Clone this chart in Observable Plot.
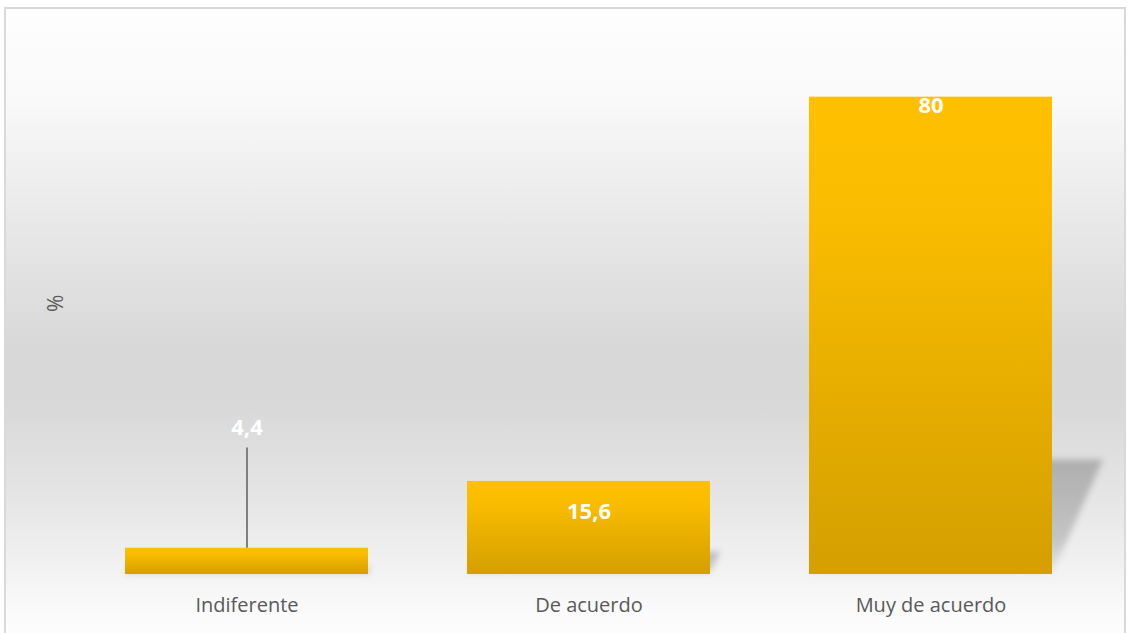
<!DOCTYPE html>
<html>
<head>
<meta charset="utf-8">
<script src="https://cdn.jsdelivr.net/npm/d3@7"></script>
<script src="https://cdn.jsdelivr.net/npm/@observablehq/plot@0.6"></script>
<style>
  html, body { margin: 0; padding: 0; background: #ffffff; width: 1130px; height: 633px; overflow: hidden; }
  #frame {
    position: absolute; left: 4px; top: 7px; width: 1122px; height: 640px;
    box-sizing: border-box; border: 2px solid #d9d9d9;
    background: linear-gradient(to bottom, #fefefe 0px, #f9f9f9 90px, #e6e6e6 230px, #d8d8d8 340px, #d9d9d9 400px, #e4e4e4 480px, #efefef 545px, #fbfbfb 605px, #ffffff 640px);
  }
  #chart { position: absolute; left: 0; top: 0; }
  #defs { position: absolute; width: 0; height: 0; }
</style>
</head>
<body>
<svg id="defs" width="0" height="0">
  <defs>
    <linearGradient id="barGrad" x1="0" y1="0" x2="0" y2="1">
      <stop offset="0" stop-color="#ffc000"/>
      <stop offset="0.25" stop-color="#f9bc00"/>
      <stop offset="1" stop-color="#d49f00"/>
    </linearGradient>
    <linearGradient id="shadowGrad" x1="0" y1="0" x2="0" y2="1">
      <stop offset="0" stop-color="#000" stop-opacity="0.22"/>
      <stop offset="0.7" stop-color="#000" stop-opacity="0.17"/>
      <stop offset="1" stop-color="#000" stop-opacity="0.03"/>
    </linearGradient>
    <filter id="blur" x="-20%" y="-20%" width="140%" height="140%">
      <feGaussianBlur stdDeviation="3"/>
    </filter>
  </defs>
</svg>
<div id="frame"></div>
<div id="chart"></div>
<script>
const categories = ["Indiferente", "De acuerdo", "Muy de acuerdo"];
const values = [4.4, 15.6, 80];
const yLabel = "%";

const data = categories.map((c, i) => ({category: c, value: values[i]}));
const fmt = v => String(v).replace(".", ",");
const labelFont = {fill: "white", fontWeight: "bold", fontSize: 22, text: d => fmt(d.value)};

const chart = Plot.plot({
  width: 1130,
  height: 633,
  marginLeft: 55.5,
  marginRight: 9.5,
  marginTop: 37,
  marginBottom: 59,
  style: {background: "transparent", fontFamily: "'Open Sans', sans-serif"},
  x: {domain: categories, paddingInner: 0.29, paddingOuter: 0.2, label: null},
  y: {domain: [0, 90], axis: null},
  marks: [
    Plot.barY(data, {x: "category", y: "value", fill: "url(#shadowGrad)"}),
    Plot.barY(data, {x: "category", y: "value", fill: "url(#barGrad)"}),
    Plot.ruleX([data[0]], {x: "category", y1: "value", y2: d => d.value + 16.8, stroke: "#7f7f7f", strokeWidth: 2}),
    Plot.text([data[0]], {x: "category", y: "value", dy: -120, ...labelFont}),
    Plot.text([data[1]], {x: "category", y: "value", dy: 31, ...labelFont}),
    Plot.text([data[2]], {x: "category", y: "value", dy: 9, ...labelFont}),
    Plot.axisX({tickSize: 0, tickPadding: 23, fontSize: 20, color: "#595959", label: null}),
    Plot.text([yLabel], {frameAnchor: "left", dy: 6, rotate: -90, fontSize: 21, fill: "#595959"})
  ]
});

document.getElementById("chart").appendChild(chart);

// Perspective shadow: the first bar group is the shadow layer; skew and flatten it about the baseline, then blur.
const y0 = chart.scale("y").apply(0);
const sg = chart.querySelector('g[aria-label="bar"]');
if (sg) {
  const ns = "http://www.w3.org/2000/svg";
  const wrap = document.createElementNS(ns, "g");
  sg.parentNode.insertBefore(wrap, sg);
  wrap.appendChild(sg);
  wrap.setAttribute("filter", "url(#blur)");
  const prev = sg.getAttribute("transform") || "";
  sg.setAttribute("transform", `translate(0,${y0}) skewX(-24) scale(1,0.24) translate(0,${-y0}) ${prev}`);
}
</script>
</body>
</html>
